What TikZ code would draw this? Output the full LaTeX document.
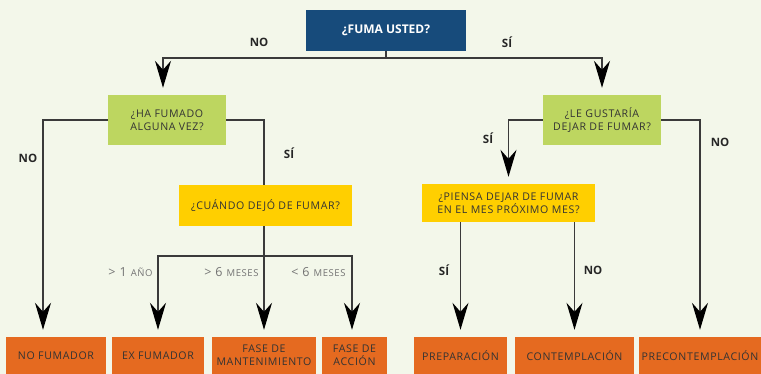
\documentclass[tikz,border=0pt]{standalone}
\usepackage{fontspec}
\setmainfont{Open Sans}
\newfontfamily\boxfont[LetterSpace=6]{Open Sans}
\usetikzlibrary{arrows.meta,calc}
\definecolor{cbg}{HTML}{F3F7EA}
\definecolor{cblue}{HTML}{174B7B}
\definecolor{cgreen}{HTML}{BDD660}
\definecolor{cyellow}{HTML}{FFCF00}
\definecolor{corange}{HTML}{E56A20}
\definecolor{ctext}{HTML}{333333}
\definecolor{cline}{HTML}{3A3A3A}

\begin{document}
\begin{tikzpicture}[
  x=1pt,y=-1pt,
  font=\boxfont\fontsize{10.6}{13}\selectfont,
  ask/.style={fill=cblue,text=white,font=\fontsize{12}{14}\selectfont\bfseries,inner sep=0pt},
  green/.style={fill=cgreen,text=ctext,align=center,inner sep=0pt,minimum width=118pt,minimum height=50pt},
  gold/.style={fill=cyellow,text=ctext,align=center,inner sep=0pt,minimum width=173pt},
  stage/.style={fill=corange,text=ctext,align=center,inner sep=0pt,minimum height=37pt},
  ans/.style={font=\fontsize{11.5}{13}\selectfont\bfseries,text=black!85},
  span/.style={font=\boxfont\fontsize{12.5}{14}\selectfont,text=black!55,anchor=east},
  link/.style={cline,line width=1.2pt},
  arr/.style={link,-{Stealth[length=27pt,width=16pt,inset=9pt,black]},shorten >=7pt},
]
\useasboundingbox[fill=cbg] (0,0) rectangle (761,374);

% questions
\node[ask,minimum width=160pt,minimum height=41pt] (fuma) at (386,30.5) {¿FUMA USTED?};
\node[green] (fumado) at (167,120) {¿HA FUMADO\\ALGUNA VEZ?};
\node[green] (gusta)  at (602,120) {¿LE GUSTARÍA\\DEJAR DE FUMAR?};
\node[gold,minimum height=41pt] (cuando) at (265.5,205.5) {¿CUÁNDO DEJÓ DE FUMAR?};
\node[gold,minimum height=38pt] (piensa) at (508.5,203) {¿PIENSA DEJAR DE FUMAR\\EN EL MES PRÓXIMO MES?};

% stages
\node[stage,minimum width=100pt] (nofum)  at (56,355.5)    {NO FUMADOR};
\node[stage,minimum width=92pt]  (exfum)  at (158,355.5)   {EX FUMADOR};
\node[stage,minimum width=104pt] (mant)   at (264,355.5)   {FASE DE\\MANTENIMIENTO};
\node[stage,minimum width=65pt]  (accion) at (354.5,355.5) {FASE DE\\ACCIÓN};
\node[stage,minimum width=93pt]  (prep)   at (460.5,355.5) {PREPARACIÓN};
\node[stage,minimum width=119pt] (contem) at (574.5,355.5) {CONTEMPLACIÓN};
\node[stage,minimum width=122pt] (precon) at (700,355.5)   {PRECONTEMPLACIÓN};

\coordinate (split)  at (386,58);
\coordinate (split2) at (264,256);

\draw[link] (fuma.south) -- (split);
\draw[arr] (split) -| ([xshift=-4pt]fumado.north);
\draw[arr] (split) -| (gusta.north);
\draw[arr] (fumado.west) -| ([xshift=-13pt]nofum.north);
\draw[link] (fumado.east) -| ([xshift=-1.5pt]cuando.north);
\draw[arr] (cuando.south -| mant.north) -- (mant.north);
\draw[arr] (split2) -| (exfum.north);
\draw[arr] (split2) -| ([xshift=-2.5pt]accion.north);
\draw[arr] (gusta.west) -| (piensa.north);
\draw[arr] (gusta.east) -| (precon.north);
\draw[arr] (prep.north |- piensa.south) -- (prep.north);
\draw[arr] (contem.north |- piensa.south) -- (contem.north);

% answers
\node[ans] (no1) at (259,42)  {NO};
\node[ans] (si1) at (507,42)  {SÍ};
\node[ans] (no2) at (28,158)  {NO};
\node[ans] (si2) at (289,153) {SÍ};
\node[ans] (si3) at (488,138) {SÍ};
\node[ans] (no3) at (720,142) {NO};
\node[ans] (si4) at (444,270) {SÍ};
\node[ans] (no4) at (593,270) {NO};

\node[span] (t1) at (156,272) {>\ 1 {\fontsize{9.5}{10}\selectfont AÑO}};
\node[span] (t2) at (262,272) {>\ 6 {\fontsize{9.5}{10}\selectfont MESES}};
\node[span] (t3) at (349,272) {<\ 6 {\fontsize{9.5}{10}\selectfont MESES}};
\end{tikzpicture}
\end{document}
